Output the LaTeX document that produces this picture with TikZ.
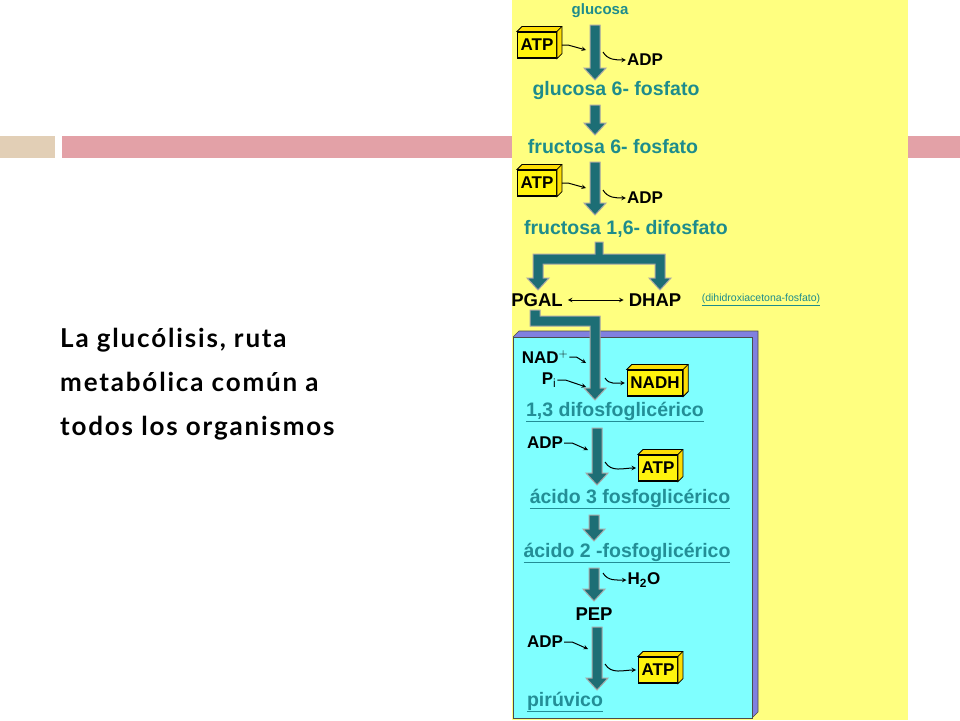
\documentclass[tikz,border=0pt]{standalone}
\usepackage{fontspec}
\setmainfont{Liberation Sans}
\newfontfamily\slidefont[LetterSpace=7]{Lato}
\begin{document}
\begin{tikzpicture}[x=1pt,y=-1pt,
  lbl/.style={font=\bfseries\fontsize{17}{19}\selectfont,text=black,inner sep=1pt},
  met/.style={font=\bfseries\fontsize{19.5}{21}\selectfont,text=metc,inner sep=1pt},
  metu/.style={met,text=metu},
  ybox/.style={draw=black,line width=1.2pt,fill=yellow!95!white,font=\bfseries\fontsize{17}{19}\selectfont,inner sep=3pt,minimum height=26pt},
  fat/.style={fill=arrc,draw=gray!70,line width=1pt},
  thin/.style={-stealth,line width=1pt,black}]
\definecolor{metc}{HTML}{1E8C8C}
\definecolor{metu}{HTML}{238E96}
\definecolor{arrc}{HTML}{1D6E75}
\definecolor{pinkbar}{HTML}{E3A1A7}
\definecolor{beigebar}{HTML}{E2CFB6}
\definecolor{panel}{HTML}{FFFF80}
\definecolor{cyanbox}{HTML}{7FFFFF}
\definecolor{purp}{HTML}{8080E0}
\useasboundingbox (0,0) rectangle (960,720);
\fill[white] (0,0) rectangle (960,720);
\fill[beigebar] (0,136) rectangle (55,158);
\fill[pinkbar] (62,136) rectangle (960,158);
\fill[panel] (512,0) rectangle (908,720);
% cyan box with 3D edge
\fill[purp] (513,337) -- (519,331) -- (758,331) -- (758,712) -- (752,718) -- cycle;
\draw[black!70,line width=0.6pt] (513,337) -- (519,331) -- (758,331) -- (758,712) -- (752,718);
\filldraw[fill=cyanbox,draw=black!70,line width=0.6pt] (513,337) rectangle (752,718);
\node[anchor=west,font=\slidefont\bfseries\fontsize{26}{30}\selectfont,align=left,inner sep=0pt] (title) at (60,384) {La glucólisis, ruta\\[14pt]metabólica común a\\[14pt]todos los organismos};
\newcommand\fatarrow[3]{% x, ytop, ybot
  \draw[fat] (#1-5,#2) -- (#1+5,#2) -- (#1+5,#3-12) -- (#1+11,#3-12) -- (#1,#3) -- (#1-11,#3-12) -- (#1-5,#3-12) -- cycle;}
\newcommand\yb[3]{% name, position, text
  \node[ybox] (#1) at (#2) {#3};
  \filldraw[fill=yellow!80!orange,draw=black,line width=0.8pt] (#1.north west) -- ++(5,-5) -- ([shift={(5,-5)}]#1.north east) -- ([shift={(5,-5)}]#1.south east) -- (#1.south east) -- (#1.north east) -- cycle;
  \draw[black,line width=0.8pt] (#1.north east) -- ++(5,-5);}
% metabolites
\node[met,font=\bfseries\fontsize{15}{17}\selectfont] (glu) at (600,11) {glucosa};
\node[met] (g6p) at (616,90) {glucosa 6- fosfato};
\node[met] (f6p) at (613,147) {fructosa 6- fosfato};
\node[met] (f16) at (626,229) {fructosa 1,6- difosfato};
\node[lbl,font=\bfseries\fontsize{18.5}{20}\selectfont] (pgal) at (537,300) {PGAL};
\node[lbl,font=\bfseries\fontsize{18.5}{20}\selectfont] (dhap) at (655,300) {DHAP};
\node[text=metc,font=\fontsize{10.5}{12}\selectfont,inner sep=1pt] (dhapn) at (761,300) {\underline{(dihidroxiacetona-fosfato)}};
\node[metu] (dpg) at (615,412) {\underline{1,3 difosfoglicérico}};
\node[metu] (a3) at (630,499) {\underline{ácido 3 fosfoglicérico}};
\node[metu] (a2) at (627,553) {\underline{ácido 2 -fosfoglicérico}};
\node[lbl,font=\bfseries\fontsize{18.5}{20}\selectfont] (pep) at (594,614) {PEP};
\node[metu] (pir) at (565,702) {\underline{pirúvico}};
% fat arrows
\fatarrow{595}{25}{80}
\fatarrow{595}{105}{135}
\fatarrow{595}{162}{215}
\fatarrow{597}{428}{485}
\fatarrow{594}{515}{541}
\fatarrow{594}{568}{601}
\fatarrow{597}{627}{690}
% branching arrow
\draw[fat] (595,242) -- (603,242) -- (603,254) -- (665,254) -- (665,278) -- (671,278) -- (660,290) -- (649,278) -- (655,278) -- (655,264) -- (543,264) -- (543,278) -- (549,278) -- (538,290) -- (527,278) -- (533,278) -- (533,254) -- (595,254) -- cycle;
% PGAL arrow
\draw[fat] (530,310) -- (540,310) -- (540,316) -- (600,316) -- (600,388) -- (606,388) -- (595,400) -- (584,388) -- (590,388) -- (590,326) -- (530,326) -- cycle;
\draw[stealth-stealth,line width=1pt] (pgal.east) ++(4,0) -- ([xshift=-4pt]dhap.west);
% boxes
\yb{atp1}{537,45}{ATP}
\yb{atp2}{537,183}{ATP}
\yb{nadh}{655,383}{NADH}
\yb{atp3}{658,468}{ATP}
\yb{atp4}{658,670}{ATP}
% side labels
\node[lbl] (adp1) at (645,60) {ADP};
\node[lbl] (adp2) at (645,198) {ADP};
\node[lbl] (nad) at (545,357) {NAD$^{\mathbf{+}}$};
\node[lbl] (pi) at (549,380) {P$_{\mathrm{i}}$};
\node[lbl] (adp3) at (545,443) {ADP};
\node[lbl] (h2o) at (644,580) {H$_{\mathbf 2}$O};
\node[lbl] (adp4) at (545,642) {ADP};
% thin arrows
\draw[thin] ([xshift=5pt]atp1.east) -- ++(6,0) -- (586,50);
\draw[thin] (603,52) to[out=-60,in=180] (adp1.west);
\draw[thin] ([xshift=5pt]atp2.east) -- ++(6,0) -- (586,188);
\draw[thin] (603,190) to[out=-60,in=180] (adp2.west);
\draw[thin] (nad.east) -- ++(7,0) -- (586,363);
\draw[thin] (pi.east) -- ++(8,0) -- (586,387);
\draw[thin] (605,378) to[out=-60,in=180] ([xshift=-2pt]nadh.west);
\draw[thin] (adp3.east) -- ++(8,0) -- (588,450);
\draw[thin] (605,462) to[out=-60,in=180] ([xshift=-2pt]atp3.west);
\draw[thin] (603,573) to[out=-60,in=180] (h2o.west);
\draw[thin] (adp4.east) -- ++(8,0) -- (588,649);
\draw[thin] (605,664) to[out=-60,in=180] ([xshift=-2pt]atp4.west);
\end{tikzpicture}
\end{document}
